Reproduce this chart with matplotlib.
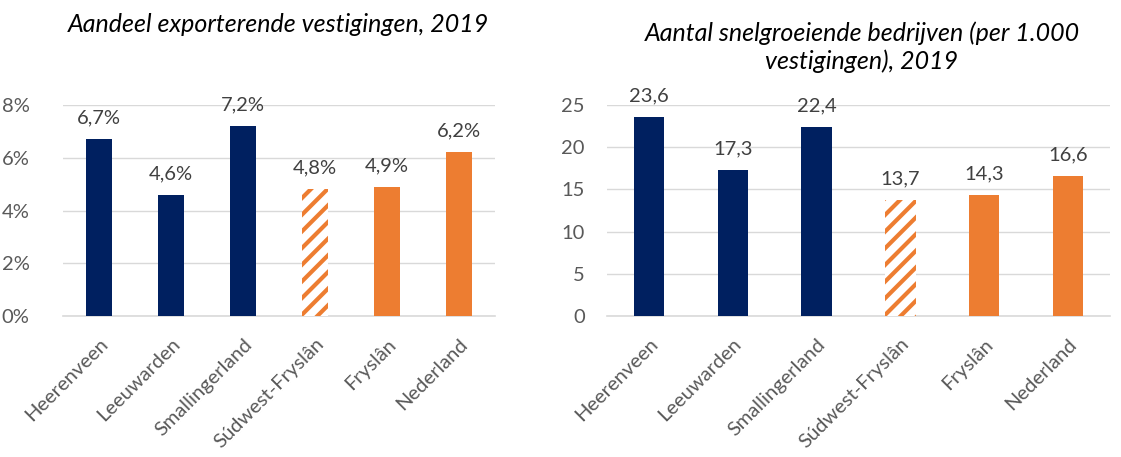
import matplotlib
matplotlib.use("Agg")
import matplotlib.pyplot as plt
from matplotlib.ticker import FuncFormatter

categories = ["Heerenveen", "Leeuwarden", "Smallingerland", "Súdwest-Fryslân", "Fryslân", "Nederland"]
export_share = [6.7, 4.6, 7.2, 4.8, 4.9, 6.2]
fast_growers = [23.6, 17.3, 22.4, 13.7, 14.3, 16.6]
title_left = "Aandeel exporterende vestigingen, 2019"
title_right = "Aantal snelgroeiende bedrijven (per 1.000\nvestigingen), 2019"

navy = "#002060"
orange = "#ED7D31"
colors = [navy, navy, navy, "hatch", orange, orange]

plt.rcParams['font.family'] = ['Lato', 'DejaVu Sans']
plt.rcParams['hatch.linewidth'] = 3.0

fig = plt.figure(figsize=(11.21, 4.57), dpi=100)
ax1 = fig.add_axes([63/1121, 1-316/457, 432/1121, 211/457])
ax2 = fig.add_axes([607/1121, 1-316/457, 503/1121, 211/457])

def draw(ax, vals, ymax, step, fmt, lblfmt):
    x = range(len(vals))
    for i, v in enumerate(vals):
        if colors[i] == "hatch":
            ax.bar(i, v, width=0.36, facecolor="white", edgecolor=orange, hatch="//", linewidth=0, zorder=3)
        else:
            ax.bar(i, v, width=0.36, color=colors[i], zorder=3)
        ax.text(i, v + ymax*0.06, lblfmt(v), ha="center", va="bottom", fontsize=14.5, color="#404040")
    ax.set_xlim(-0.5, len(vals)-0.5)
    ax.set_ylim(0, ymax)
    ax.set_yticks([step*k for k in range(int(round(ymax/step))+1)])
    ax.yaxis.set_major_formatter(FuncFormatter(fmt))
    ax.grid(axis="y", color="#D9D9D9", linewidth=1, zorder=0)
    for s in ["top", "right", "left"]:
        ax.spines[s].set_visible(False)
    ax.spines["bottom"].set_color("#D9D9D9")
    ax.spines["bottom"].set_linewidth(1.2)
    ax.tick_params(axis="both", length=0, labelsize=14.5, colors="#595959")
    ax.tick_params(axis="x", labelsize=14.5, pad=14)
    ax.set_xticks(list(x))
    ax.set_xticklabels(categories, rotation=45, ha="right", rotation_mode="anchor")

draw(ax1, export_share, 8, 2, lambda v, p: f"{int(v)}%", lambda v: f"{v:.1f}%".replace(".", ","))
draw(ax2, fast_growers, 25, 5, lambda v, p: f"{int(v)}", lambda v: f"{v:.1f}".replace(".", ","))
ax1.tick_params(axis="y", pad=24)
ax2.tick_params(axis="y", pad=16)

fig.text(278/1121, 1-24/457, title_left, ha="center", va="center", fontsize=18, style="italic", color="#000000")
fig.text(862/1121, 1-47/457, title_right, ha="center", va="center", fontsize=18, style="italic", color="#000000", linespacing=1.25)

fig.savefig("out.png", dpi=100)
